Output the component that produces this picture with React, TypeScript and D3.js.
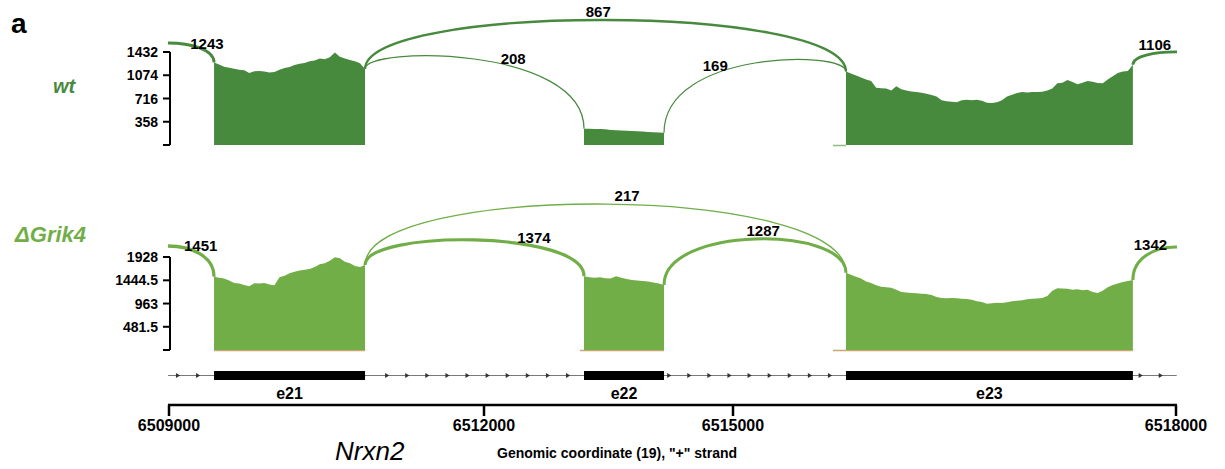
import React from 'react';
import * as d3 from 'd3';

// ---------- DATA ----------
const X_TICKS = [6509000, 6512000, 6515000, 6518000];
const EXONS = [
  { name: 'e21', start: 6509429, end: 6510867 },
  { name: 'e22', start: 6513205, end: 6514169 },
  { name: 'e23', start: 6515765, end: 6517708 },
];
const GENE_START = 6508990;
const GENE_END = 6518005;

const WT_TICKS = [0, 358, 716, 1074, 1432];
const KO_TICKS = [0, 481.5, 963, 1444.5, 1928];

const WT_E21 = [1270, 1240, 1205, 1190, 1175, 1160, 1150, 1110, 1135, 1140, 1130, 1115, 1125, 1160, 1185, 1200,
  1230, 1250, 1262, 1290, 1300, 1330, 1320, 1350, 1425, 1360, 1330, 1310, 1290, 1260, 1170];
const WT_E22 = [250, 250, 248, 246, 244, 230, 226, 222, 218, 214, 210, 206, 202, 198, 194, 190];
const WT_E23 = [1130, 1100, 1070, 1040, 1010, 985, 880, 875, 870, 840, 905, 860, 840, 825, 815, 805, 790, 770,
  745, 690, 675, 665, 660, 690, 695, 690, 695, 680, 650, 645, 660, 690, 745, 775, 800, 815, 810, 815, 815, 820,
  840, 870, 950, 960, 1000, 970, 935, 960, 985, 975, 955, 950, 1010, 1060, 1110, 1130, 1140, 1235];

const KO_E21 = [1520, 1500, 1480, 1440, 1390, 1380, 1350, 1320, 1385, 1380, 1390, 1360, 1340, 1510, 1540, 1590,
  1620, 1650, 1665, 1680, 1720, 1780, 1800, 1850, 1925, 1900, 1830, 1800, 1740, 1720, 1760];
const KO_E22 = [1530, 1510, 1500, 1510, 1490, 1480, 1530, 1500, 1470, 1450, 1440, 1430, 1420, 1400, 1380, 1350];
const KO_E23 = [1600, 1560, 1520, 1480, 1420, 1390, 1340, 1310, 1300, 1290, 1250, 1200, 1190, 1180, 1175, 1165,
  1160, 1140, 1100, 1080, 1075, 1080, 1075, 1065, 1055, 1040, 1010, 995, 960, 970, 980, 975, 990, 1010, 1020,
  1030, 1050, 1060, 1070, 1080, 1120, 1230, 1280, 1275, 1270, 1250, 1260, 1240, 1250, 1200, 1180, 1230, 1300,
  1350, 1380, 1410, 1430, 1450];

const WT_JUNCTIONS = [
  { from: 6508552, to: 6509429, count: 1243 },
  { from: 6510867, to: 6515765, count: 867 },
  { from: 6510867, to: 6513205, count: 208 },
  { from: 6514169, to: 6515765, count: 169 },
  { from: 6517708, to: 6518291, count: 1106 },
];
const KO_JUNCTIONS = [
  { from: 6508552, to: 6509429, count: 1451 },
  { from: 6510867, to: 6515765, count: 217 },
  { from: 6510867, to: 6513205, count: 1374 },
  { from: 6514169, to: 6515765, count: 1287 },
  { from: 6517708, to: 6518291, count: 1342 },
];
const WT_STUBS = [[6515677, 6515765]];
const KO_STUBS = [[6509429, 6510867], [6513157, 6514169], [6515677, 6517708]];

// ---------- LAYOUT ----------
const W = 1225, H = 469;
const X_RANGE = [169, 484, 733, 1176];
const FONT = '"Liberation Sans", Arial, Helvetica, sans-serif';
const WT_COLOR = '#478A3E';
const KO_COLOR = '#71AE48';
const STUB_COLOR = '#C8A86E';

const x = d3.scaleLinear().domain(X_TICKS).range(X_RANGE);

type Junction = { from: number; to: number; count: number };
type Panel = {
  name: string; top: number; bottom: number; max: number; ticks: number[]; color: string;
  cov: number[][]; junctions: Junction[]; lifts: number[]; labelT: number[];
  labelX: number; labelY: number; labelSize: number; stubs: number[][]; stubColor: string;
};

const panels: Panel[] = [
  {
    name: 'wt', top: 52, bottom: 145, max: 1432, ticks: WT_TICKS, color: WT_COLOR,
    cov: [WT_E21, WT_E22, WT_E23], junctions: WT_JUNCTIONS,
    lifts: [-15.5, -48.8, -6.3, -2, -4.3], labelT: [0.83, 0.49, 0.62, 0.35, 0.33],
    labelX: 53, labelY: 93, labelSize: 20, stubs: WT_STUBS, stubColor: '#8DBB86',
  },
  {
    name: '\u0394Grik4', top: 257, bottom: 350, max: 1928, ticks: KO_TICKS, color: KO_COLOR,
    cov: [KO_E21, KO_E22, KO_E23], junctions: KO_JUNCTIONS,
    lifts: [-21.2, -74.6, -27.3, -31.3, -21], labelT: [0.76, 0.53, 0.69, 0.53, 0.29],
    labelX: 15, labelY: 242, labelSize: 22, stubs: KO_STUBS, stubColor: STUB_COLOR,
  },
];

const widthScale = d3.scaleLinear().domain([0, 1451]).range([0.9, 3.3]);

function PanelView({ p }: { p: Panel }) {
  const y = d3.scaleLinear().domain([0, p.max]).range([p.bottom, p.top]);
  const covAt = (pos: number): number | null => {
    for (let i = 0; i < EXONS.length; i++) {
      const v = p.cov[i];
      if (EXONS[i].start === pos) return v[0];
      if (EXONS[i].end === pos) return v[v.length - 1];
    }
    return null;
  };
  const areas = EXONS.map((ex, i) => {
    const vals = p.cov[i];
    const pts = vals.map((v, k) => [ex.start + (k * (ex.end - ex.start)) / (vals.length - 1), v] as [number, number]);
    const gen = d3.area<[number, number]>()
      .x((d) => x(d[0]))
      .y0(y(0))
      .y1((d) => y(d[1]))
      .curve(d3.curveLinear);
    return <path key={ex.name} d={gen(pts) || ''} fill={p.color} />;
  });

  const arcs = p.junctions.map((j, i) => {
    const a = covAt(j.from);
    const b = covAt(j.to);
    const va = a ?? b ?? 0;
    const vb = b ?? a ?? 0;
    const x0 = x(j.from), x1 = x(j.to);
    const y0 = y(va), y1 = y(vb);
    const yc = p.top + p.lifts[i];
    const path = d3.path();
    path.moveTo(x0, y0);
    path.bezierCurveTo(x0, yc, x1, yc, x1, y1);
    const t = p.labelT[i];
    const mt = 1 - t;
    const bx = mt * mt * mt * x0 + 3 * mt * mt * t * x0 + 3 * mt * t * t * x1 + t * t * t * x1;
    const by = mt * mt * mt * y0 + 3 * mt * mt * t * yc + 3 * mt * t * t * yc + t * t * t * y1;
    return (
      <g key={i}>
        <path d={path.toString()} fill="none" stroke={p.color} strokeWidth={widthScale(j.count)}
          clipPath="url(#plotClip)" />
        <text x={bx} y={by - 3} textAnchor="middle" fontFamily={FONT} fontWeight="bold" fontSize={15}
          fill="#000">{j.count}</text>
      </g>
    );
  });

  const axisX = X_RANGE[0] + 1;
  return (
    <g>
      {p.stubs.map((s, i) => (
        <line key={'s' + i} x1={x(s[0])} x2={x(s[1])} y1={p.bottom + 0.5} y2={p.bottom + 0.5}
          stroke={p.stubColor} strokeWidth={1.5} />
      ))}
      {areas}
      {arcs}
      <line x1={axisX} x2={axisX} y1={y(p.max)} y2={y(0)} stroke="#000" strokeWidth={2} />
      {p.ticks.map((tv) => (
        <g key={tv}>
          <line x1={axisX - 7} x2={axisX} y1={y(tv)} y2={y(tv)} stroke="#000" strokeWidth={2} />
          {tv !== 0 && (
            <text x={axisX - 12} y={y(tv) + 5} textAnchor="end" fontFamily={FONT} fontWeight="bold"
              fontSize={14} fill="#000">{tv}</text>
          )}
        </g>
      ))}
      <text x={p.labelX} y={p.labelY} fontFamily={FONT} fontWeight="bold" fontStyle="italic"
        fontSize={p.labelSize} fill={p.color}>{p.name}</text>
    </g>
  );
}

function GeneTrack() {
  const yLine = 375.5;
  const bounds = [GENE_START, ...EXONS.flatMap((e) => [e.start, e.end]), GENE_END];
  const markers: number[] = [];
  for (let i = 0; i < bounds.length; i += 2) {
    const a = x(bounds[i]);
    const b = x(bounds[i + 1]);
    for (let m = b - 16; m > a + 2; m -= 20.1) markers.push(m);
  }
  return (
    <g>
      <line x1={x(GENE_START)} x2={x(GENE_END)} y1={yLine} y2={yLine} stroke="#7a7a7a" strokeWidth={1.2} />
      {markers.map((m, i) => (
        <path key={i} d={`M${m - 2},${yLine - 2.4} L${m + 2.2},${yLine} L${m - 2},${yLine + 2.4} Z`} fill="#333" />
      ))}
      {EXONS.map((e) => (
        <g key={e.name}>
          <rect x={x(e.start)} y={371} width={x(e.end) - x(e.start)} height={9} fill="#000" />
          <text x={(x(e.start) + x(e.end)) / 2} y={399} textAnchor="middle" fontFamily={FONT}
            fontWeight="bold" fontSize={16} fill="#000">{e.name}</text>
        </g>
      ))}
    </g>
  );
}

function XAxis() {
  const yA = 405;
  return (
    <g>
      <line x1={x(X_TICKS[0]) - 1} x2={x(X_TICKS[X_TICKS.length - 1]) + 1} y1={yA} y2={yA} stroke="#000"
        strokeWidth={2.5} />
      {X_TICKS.map((t) => (
        <g key={t}>
          <line x1={x(t)} x2={x(t)} y1={yA} y2={yA + 11} stroke="#000" strokeWidth={2.5} />
          <text x={x(t)} y={431} textAnchor="middle" fontFamily={FONT} fontWeight="bold" fontSize={16}
            fill="#000">{t}</text>
        </g>
      ))}
      <text x={335} y={460} fontFamily={FONT} fontStyle="italic" fontSize={26} fill="#000">Nrxn2</text>
      <text x={497} y={458} fontFamily={FONT} fontWeight="bold" fontSize={14} fill="#000">
        Genomic coordinate (19), "+" strand
      </text>
    </g>
  );
}

export default function App() {
  return (
    <svg width={W} height={H} style={{ position: 'absolute', left: 0, top: 0, background: '#fff' }}>
      <defs>
        <clipPath id="plotClip">
          <rect x={X_RANGE[0] - 1} y={0} width={X_RANGE[3] - X_RANGE[0] + 2} height={H} />
        </clipPath>
      </defs>
      <rect width={W} height={H} fill="#fff" />
      <text x={11} y={33} fontFamily={FONT} fontWeight="bold" fontSize={28} fill="#000">a</text>
      {panels.map((p) => <PanelView key={p.name} p={p} />)}
      <GeneTrack />
      <XAxis />
    </svg>
  );
}
